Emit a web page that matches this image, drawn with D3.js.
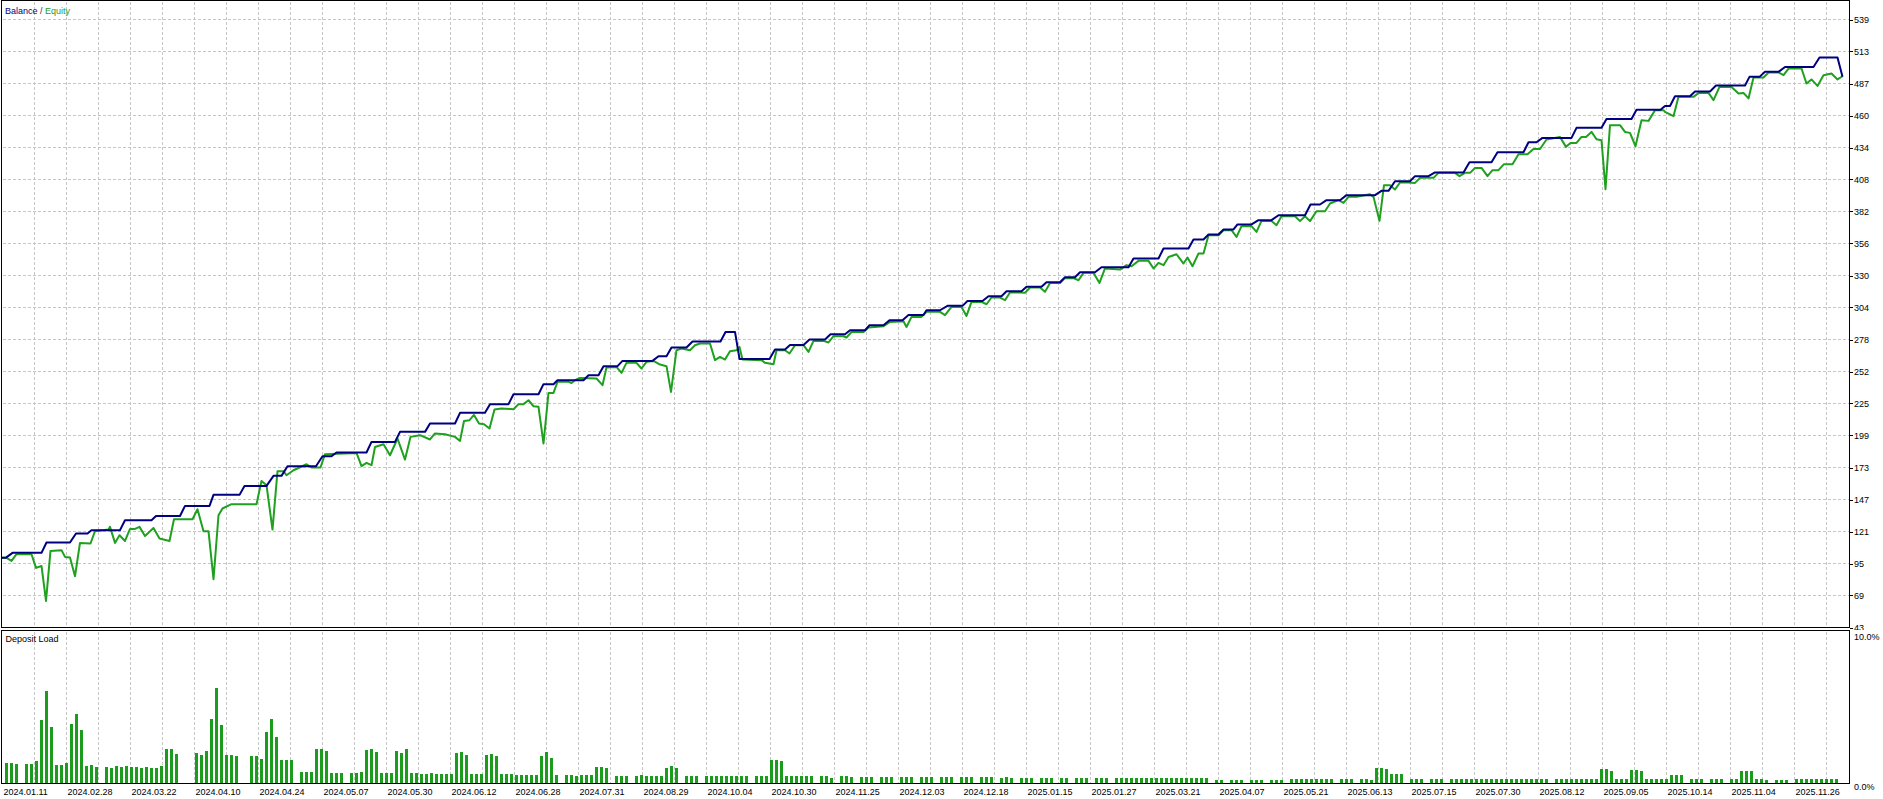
<!DOCTYPE html>
<html><head><meta charset="utf-8">
<script src="https://cdn.jsdelivr.net/npm/d3@7"></script>
<style>
html,body{margin:0;padding:0;background:#fff;}
svg{display:block;font-family:"Liberation Sans",Arial,sans-serif;}
</style></head><body>
<script>
// ---------- DATA ----------
const balanceIdx = [0,1.2,2.5,8.3,9.3,14,15.2,17.5,18.3,24,25,30.3,31.2,36,37,41.9,42.7,47.9,48.9,53.3,54.7,56.3,57.5,63.2,64.5,66.3,67.3,73.3,74.3,79,80,85,86,91,92,97,98,101.7,102.7,107.7,108.7,110.7,111.5,116.7,117.7,119.7,120.7,123.5,124.5,130.5,131.7,133.3,134.3,137.3,138.5,144.1,145.1,147,147.9,153.9,155,157,158,160.7,161.9,165,166.1,169,170,173,173.9,176.7,177.9,180.5,181.7,184.7,185.3,188,189.5,192.5,193.5,196.5,197.7,200.3,201.3,204.3,205.3,208.3,209.3,212,213,215,216,219,220.3,225.7,226.7,231.7,232.7,237.7,238.7,240.7,241.7,243.7,244.7,246.7,247.5,250.3,251.7,254.3,255.7,261,262.1,264,265.3,268,269.3,275,276.3,277.7,279,282,283,285.7,287,292.7,293.9,298.3,299.5,304.7,305.7,307.3,308.5,314.3,315.3,320.3,321.3,326.3,327.3,332.1,333,334,335,338,339,342,343.2,349,349.9,351.9,353,355.7,357,362.7,363.9,367.5,368.5];
const balanceVal = [100,100,103.9,103.9,112.3,112.3,119.7,119.7,122.4,122.4,130.5,130.5,134,134,142.2,142.2,151.2,151.2,158.5,158.5,166.7,166.7,174.6,174.6,182.7,182.7,185.8,185.8,194.4,194.4,202.6,202.6,209.4,209.4,218.1,218.1,225.2,225.2,233.3,233.3,241.5,241.5,244.7,244.7,248.8,248.8,256.2,256.2,260.5,260.5,264.3,264.3,271.4,271.4,276.3,276.3,284.1,284.1,262.1,262.1,269.8,269.8,273.5,273.5,277.9,277.9,282.3,282.3,285.5,285.5,289.6,289.6,293.7,293.7,298,298,301.8,301.8,305.4,305.4,309.4,309.4,313.3,313.3,317.3,317.3,320.9,320.9,324.7,324.7,328.8,328.8,332.8,332.8,336.9,336.9,344,344,352.2,352.2,359.5,359.5,363.6,363.6,367.7,367.7,371.8,371.8,375.3,375.3,379.3,379.3,388.1,388.1,391.6,391.6,395.7,395.7,399.2,399.2,407.1,407.1,411.2,411.2,414.2,414.2,422.6,422.6,430.7,430.7,438.9,438.9,442.4,442.4,450.6,450.6,457.9,457.9,465.3,465.3,468.5,468.5,476.4,476.4,480.3,480.3,485.2,485.2,492.2,492.2,496.3,496.3,500.3,500.3,508,508,492.3];

const equityIdx = [0,1.3,2.3,3.3,6.3,7.2,8.3,9.2,10.1,12.3,13,14,15,16,18.1,19,21.7,22,23,23.9,25,26,27,27.9,29,30.7,31.9,33.9,34.8,38.5,39.5,40.7,41.7,42.7,43.7,44.5,46.3,51.3,52.3,53.3,54.5,55.5,56.7,57.3,58.7,61.3,62.3,64.1,65,71.3,72.3,73.3,74.3,75,76.7,78,79.5,81,82.1,84,86,87,89,91,92,92.8,93.9,94.8,95.8,96.8,97.9,98.9,100.3,102.7,103.7,104.7,105.7,106.7,107.7,108.7,109.7,110.7,111.5,113.7,114.3,115,116,119.3,120.5,121.3,123.3,124.3,125.3,127.3,128.3,129.3,130.7,132,133.3,134.2,135.3,136.3,138,139,140,142,143,144,145,146,147.3,147.9,148.5,152.3,153,154.7,155.3,157,157.9,159,160.7,161.7,162.7,164.7,165.7,166.7,168.7,169.3,170.3,172.7,173.7,176.7,178,180.7,181.3,182.3,184.3,185.3,188,189,190.3,192.3,193.3,194.3,196.3,197.3,198.3,200,201,202,204,205,206,208,209,210,212,213,214.7,215.7,216.7,218.7,219.9,221,224,225.3,226.3,227.7,229.7,230.7,231.7,232.7,233.7,235.3,236.7,237.5,238.5,239.7,240.7,241.7,243.7,244.7,246.3,247.3,248.3,250.3,251.3,252.3,254.3,255.3,256.3,259,260,261,262,263.3,265,266,267.7,268.7,269.7,271.3,272.7,274,274.7,275.9,276.8,278,279,280,281.7,283,284,286.7,287.7,291,291.9,293,294,295,296.3,297.5,298.5,299.7,300.8,302.5,303.7,305.5,306.7,308,309.3,312,313.2,314.1,315.3,316.3,317.2,318.3,319.3,320.3,321.1,322,324,325,326,327.1,328.3,329.7,331,332.7,333,334.7,335.7,338.7,339.7,341.7,342.7,343.9,346.3,347.7,348.7,349.7,350.7,352.7,353.7,355.7,356.7,357.7,360.3,361.3,362.3,363.5,364.7,366.3,367.5,368.5];
const equityVal = [99.8,99.8,97.3,102.8,102.8,91.6,93.2,64.7,105.5,106.1,100.6,100.1,84.8,112,111.5,121.6,122.9,125.1,112,118.3,113.6,123.4,123.4,125.1,117.7,124.2,115.6,113.6,131.3,131.3,139.5,121.6,121.6,82.4,134.6,140.1,143.6,143.6,162.6,159.1,122.9,170.5,170.5,167.2,171.3,176.2,173.5,173.5,184.4,185.4,174.6,177.3,175.4,190.3,192.5,183.5,197.2,180,198.5,199.9,196.4,201.3,200.7,198.5,195.2,211.5,212.1,216.4,209.4,208.8,205.3,220.8,221.7,221.1,225.2,225.2,228.4,223.5,223,193.1,234.4,234.4,243.4,243.4,242.5,244.7,246.6,246.1,240.7,255.1,255.6,250.7,258.9,258.9,254.3,259.7,260.5,257.5,256.2,235.2,269.2,270.6,269.2,273.3,274.7,274.7,261.1,263.7,261.6,268.4,269.2,271.9,261.6,261.1,258.9,257.8,269.2,269.2,266.5,273.3,273.3,267.8,276.8,276.8,275.5,280.6,280.6,279.6,284.1,284.1,287.7,288.8,292.3,292.9,288.2,296.4,296.4,300.5,300.5,297.8,304.5,304.5,297.2,308.6,308.6,306.7,312.2,312.2,310,316.3,316.3,316,320.4,320.4,316.8,324.1,324.1,328,328,326.3,332.3,332.3,324.1,335.9,335,338.6,337.7,342.1,342.1,335.9,340.4,338.6,345.3,347.5,339.9,344.8,337.7,348.1,348.1,363,363,367.1,367.1,361.6,370.4,370.4,365.7,374.7,374.7,371.2,378.5,378.5,374.5,378.5,374.5,382.6,382.6,388.9,391.6,389.4,394.3,394.3,395.4,396.5,394.3,374.7,403.8,403.8,400.3,406,406,405.7,409.8,409.8,413.9,413.9,411.2,413.9,413.9,417.9,417.9,411.2,416.1,416.1,421,421,429.1,429.1,433.4,433.4,441.1,443.2,435.1,438.3,438.3,443.2,443.2,447.3,441.3,440.5,400.6,452.8,452.8,447.3,446.5,435.6,456.8,456.3,465,465,463.6,460.1,475.9,475.9,479.1,479.1,473.2,484,484,478.6,479.1,474.6,491.7,491.7,495.8,495.8,493.6,499,499,486.8,490.1,484.8,493.6,494.9,490.1,492.7];

// deposit load, % per deal index 0..367
const depositLoad = [
0,1.33,1.33,1.27,0,1.27,1.27,1.47,4.2,6.13,
3.73,1.2,1.2,1.33,3.93,4.6,3.53,1.16,1.2,1.07,
0,1.07,1.02,1.13,1.09,1.13,1.09,1.07,1.02,1.07,
1.02,1.02,1.13,2.27,2.27,1.93,0,0,0,2.0,
1.87,2.13,4.27,6.33,3.87,1.87,1.87,1.8,0,0,
1.8,1.8,1.6,3.4,4.27,3.07,1.53,1.53,1.53,0,
0.73,0.73,0.73,2.27,2.27,2.13,0.67,0.67,0.67,0,
0.67,0.67,0.73,2.2,2.27,2.07,0.67,0.67,0.67,2.13,
2.0,2.27,0.67,0.67,0.6,0.6,0.67,0.6,0.6,0.6,
0.6,2.0,2.07,1.87,0.6,0.6,0.6,1.87,1.93,1.8,
0.6,0.6,0.6,0.53,0.53,0.53,0.53,0.53,1.8,2.07,
1.67,0.53,0,0.53,0.53,0.47,0.53,0.53,0.53,1.07,
1.07,1.0,0,0.47,0.47,0.47,0,0.47,0.53,0.47,
0.47,0.47,0.47,1.0,1.15,1.0,0,0.47,0.47,0.47,
0,0.47,0.47,0.47,0.47,0.47,0.47,0.47,0.47,0.47,
0,0.47,0.47,0.47,1.53,1.53,1.47,0.47,0.47,0.47,
0.45,0.45,0.45,0,0.45,0.45,0.35,0,0.45,0.45,
0.4,0,0.4,0.4,0.4,0,0.4,0.4,0.4,0,
0.4,0.4,0.4,0,0.4,0.4,0.4,0,0.4,0.4,
0.4,0,0.4,0.4,0.4,0,0.4,0.4,0.4,0,
0.33,0.4,0.33,0,0.33,0.33,0.33,0,0.33,0.33,
0.33,0,0.33,0.33,0,0.33,0.33,0.33,0,0.33,
0.33,0.33,0,0.33,0.33,0.33,0.33,0.33,0.33,0.33,
0.33,0.33,0.33,0.33,0.33,0.33,0.33,0.33,0.33,0.33,
0.33,0.33,0,0.22,0.22,0,0.22,0.22,0.22,0,
0.22,0.22,0.22,0,0.22,0.22,0.22,0,0.3,0.3,
0.3,0.3,0.3,0.3,0.3,0.3,0.3,0,0.3,0.3,
0.3,0,0.3,0.3,0.22,0.98,0.98,0.93,0.6,0.6,
0.6,0,0.25,0.25,0.25,0,0.25,0.25,0.25,0,
0.25,0.25,0.25,0.25,0.25,0.25,0.25,0.25,0.25,0.25,
0.25,0.25,0.25,0.25,0.25,0.25,0.25,0.25,0.25,0.25,
0,0.25,0.25,0.25,0.25,0.25,0.25,0.25,0.25,0.25,
0.91,0.95,0.82,0.25,0.25,0.25,0.87,0.87,0.82,0.25,
0.25,0.25,0.25,0.25,0.53,0.53,0.53,0,0.25,0.25,
0.25,0,0.25,0.25,0.25,0,0.25,0.25,0.8,0.8,
0.8,0.3,0.25,0.2,0,0.2,0.2,0.2,0,0.25,
0.25,0.25,0.25,0.25,0.25,0.25,0.25,0.25];

const yTickLabels = [539,513,487,460,434,408,382,356,330,304,278,252,225,199,173,147,121,95,69,43];
const dateLabels = ["2024.01.11","2024.02.28","2024.03.22","2024.04.10","2024.04.24","2024.05.07","2024.05.30","2024.06.12","2024.06.28","2024.07.31","2024.08.29","2024.10.04","2024.10.30","2024.11.25","2024.12.03","2024.12.18","2025.01.15","2025.01.27","2025.03.21","2025.04.07","2025.05.21","2025.06.13","2025.07.15","2025.07.30","2025.08.12","2025.09.05","2025.10.14","2025.11.04","2025.11.26"];
const loadTicks = [10, 0];

// ---------- LAYOUT ----------
const W = 1883, H = 799;
const plotL = 1.5, plotR = 1849.5;
const topT = 0.5, topB = 627.5, loadT = 630.5, loadB = 783.5;
const gridStepIdx = 6.4, gridOffsetIdx = 0.5, nGrid = 58;
const balanceColor = "#000080", equityColor = "#1fa01f", loadColor = "#1c9c1c", gridColor = "#c6c6c6";

const x = d3.scaleLinear().domain([0, 369.8]).range([0, 1849]);
const y = d3.scaleLinear().domain([43, 539]).range([627.5, 19.5]);
const yl = d3.scaleLinear().domain([0, 10]).range([783, 633]);

const svg = d3.select("body").append("svg").attr("width", W).attr("height", H);
svg.append("rect").attr("width", W).attr("height", H).attr("fill", "#fff");
const defs = svg.append("defs");
defs.append("clipPath").attr("id", "clipTop").append("rect")
  .attr("x", 2).attr("y", 1).attr("width", 1847).attr("height", 626);
defs.append("clipPath").attr("id", "clipTopLabels").append("rect")
  .attr("x", 1850).attr("y", 0).attr("width", 40).attr("height", 630);

// grid
const gridIdx = d3.range(1, nGrid).map(k => gridOffsetIdx + k * gridStepIdx);
const gGrid = svg.append("g").attr("stroke", gridColor).attr("stroke-dasharray", "3,2")
  .attr("shape-rendering", "crispEdges").attr("stroke-width", 1);
gGrid.selectAll("line.vt").data(gridIdx).join("line").attr("class", "vt")
  .attr("x1", d => x(d)).attr("x2", d => x(d)).attr("y1", topT + 1).attr("y2", topB);
gGrid.selectAll("line.vb").data(gridIdx).join("line").attr("class", "vb")
  .attr("x1", d => x(d)).attr("x2", d => x(d)).attr("y1", loadT + 1).attr("y2", loadB);
const yMax = yTickLabels[0], yMin = yTickLabels[yTickLabels.length - 1];
const gridVals = yTickLabels.map((t, i) => yMax - i * (yMax - yMin) / (yTickLabels.length - 1));
gGrid.selectAll("line.h").data(gridVals.slice(0, -1)).join("line").attr("class", "h")
  .attr("x1", plotL + 1).attr("x2", plotR).attr("y1", d => y(d)).attr("y2", d => y(d));

// lines
const gLines = svg.append("g").attr("clip-path", "url(#clipTop)");
const eqData = equityIdx.map((d, i) => [d, equityVal[i]]);
const balData = balanceIdx.map((d, i) => [d, balanceVal[i]]);
const line = d3.line().x(d => x(d[0])).y(d => y(d[1]));
gLines.append("path").attr("d", line(eqData)).attr("fill", "none")
  .attr("stroke", equityColor).attr("stroke-width", 2).attr("stroke-linejoin", "round");
gLines.append("path").attr("d", line(balData)).attr("fill", "none")
  .attr("stroke", balanceColor).attr("stroke-width", 2).attr("stroke-linejoin", "round");

// deposit load bars
svg.append("g").attr("fill", loadColor).attr("shape-rendering", "crispEdges")
  .selectAll("rect").data(depositLoad.map((v, i) => [i, v]).filter(d => d[1] > 0)).join("rect")
  .attr("x", d => x(d[0])).attr("width", 3.4)
  .attr("y", d => yl(d[1])).attr("height", d => yl(0) - yl(d[1]));

// frames
const gFrame = svg.append("g").attr("stroke", "#000").attr("stroke-width", 1).attr("fill", "none")
  .attr("shape-rendering", "crispEdges");
gFrame.append("path").attr("d", `M${plotL},${topT}H${plotR}V${topB}H${plotL}Z`);
gFrame.append("path").attr("d", `M${plotL},${loadT}H${plotR}V${loadB}H${plotL}Z`);
gFrame.selectAll("line.yt").data(gridVals).join("line").attr("class", "yt")
  .attr("x1", plotR).attr("x2", plotR + 3).attr("y1", d => Math.round(y(d)) + 0.5).attr("y2", d => Math.round(y(d)) + 0.5);

// labels
const txt = svg.append("g").attr("font-size", "9px").attr("fill", "#000");
txt.append("g").attr("clip-path", "url(#clipTopLabels)")
  .selectAll("text").data(yTickLabels).join("text")
  .attr("x", 1854).attr("y", (d, i) => y(gridVals[i])).attr("dy", "0.35em").text(d => d);
txt.selectAll("text.ll").data(loadTicks).join("text").attr("class", "ll")
  .attr("x", 1854).attr("y", d => yl(d) + 3.5).attr("dy", "0.35em").text(d => d.toFixed(1) + "%");
txt.selectAll("text.dl").data(dateLabels).join("text").attr("class", "dl")
  .attr("x", (d, i) => x(gridOffsetIdx + 2 * i * gridStepIdx) + 1).attr("y", 795).text(d => d);
const legend = txt.append("text").attr("x", 5).attr("y", 14);
legend.append("tspan").attr("fill", balanceColor).text("Balance");
legend.append("tspan").attr("fill", "#333").text(" / ");
legend.append("tspan").attr("fill", equityColor).text("Equity");
txt.append("text").attr("x", 5.5).attr("y", 642).text("Deposit Load");
</script>
</body></html>
